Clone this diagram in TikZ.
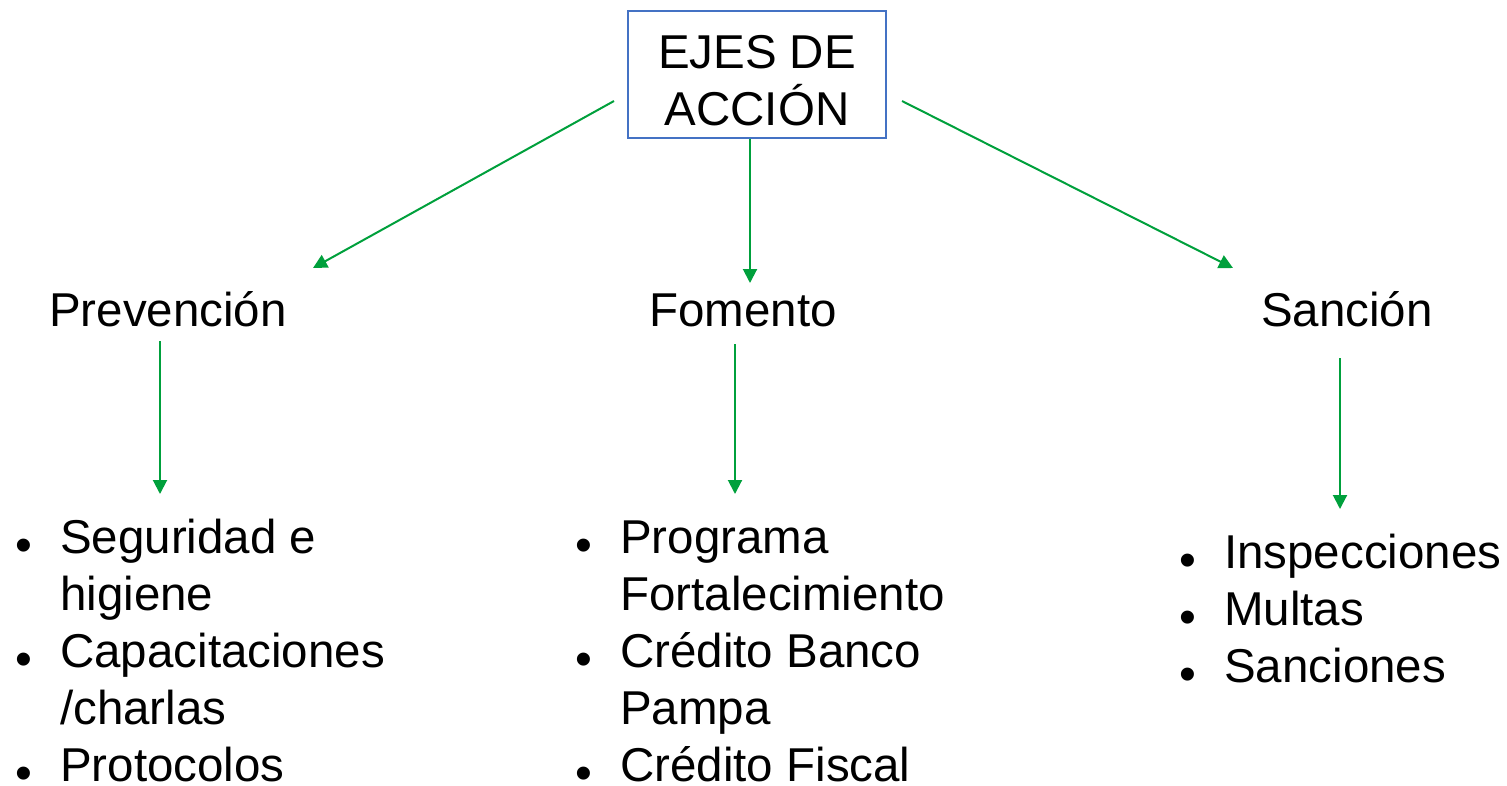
\documentclass[tikz,border=0pt]{standalone}
\usepackage{fontspec}
\setmainfont{Liberation Sans}
\usetikzlibrary{arrows.meta}

\definecolor{verde}{RGB}{0,160,60}
\definecolor{azul}{RGB}{68,114,196}

\newcommand{\punto}{\makebox[46pt][l]{\hspace{1pt}\raisebox{-8pt}{\fontsize{48}{48}\selectfont •}}}

\tikzset{
	texto/.style = {inner sep = 0pt, font = \fontsize{47.5}{57}\selectfont},
	caja/.style = {texto, draw = azul, line width = 1.5pt, minimum width = 258pt, minimum height = 127pt, align = center, text height = 101pt, text depth = 0pt},
	flecha/.style = {-{Triangle[length = 14pt, width = 14pt]}, verde, line width = 2pt}
}

\begin{document}
\begin{tikzpicture}[x = 1pt, y = -1pt]
	\useasboundingbox (0, 0) rectangle (1507, 785);
	
	%	titulo
	\node[caja] (ejes) at (757, 74.5) {EJES DE\\ACCIÓN};
	
	%	ejes
	\node[texto, anchor = base] (prev) at (168, 326) {Prevención};
	\node[texto, anchor = base] (fom) at (743, 326) {Fomento};
	\node[texto, anchor = base] (sanc) at (1347, 326) {Sanción};
	
	%	listas
	\node[texto, anchor = base west] (lprev) at (14, 553) {%
		\begin{tabular}[t]{@{}l@{}l@{}}
			\punto & Seguridad e\\
			& higiene\\
			\punto & Capacitaciones\\
			& /charlas\\
			\punto & Protocolos
		\end{tabular}};
	\node[texto, anchor = base west] (lfom) at (574, 553) {%
		\begin{tabular}[t]{@{}l@{}l@{}}
			\punto & Programa\\
			& Fortalecimiento\\
			\punto & Crédito Banco\\
			& Pampa\\
			\punto & Crédito Fiscal
		\end{tabular}};
	\node[texto, anchor = base west] (lsanc) at (1178, 568) {%
		\begin{tabular}[t]{@{}l@{}l@{}}
			\punto & Inspecciones\\
			\punto & Multas\\
			\punto & Sanciones
		\end{tabular}};
	
	%	puntas
	\coordinate (a1) at (614, 101);
	\coordinate (b1) at (313, 268);
	\coordinate (a3) at (902, 101);
	\coordinate (b3) at (1233, 268);
	
	%	flechas
	\draw[flecha] (a1) -- (b1);
	\draw[flecha] (ejes.south -| 750, 0) -- (750, 283);
	\draw[flecha] (a3) -- (b3);
	\draw[flecha] (160, 341) -- (160, 494);
	\draw[flecha] (735, 344) -- (735, 494);
	\draw[flecha] (1340, 358) -- (1340, 509);
\end{tikzpicture}
\end{document}
